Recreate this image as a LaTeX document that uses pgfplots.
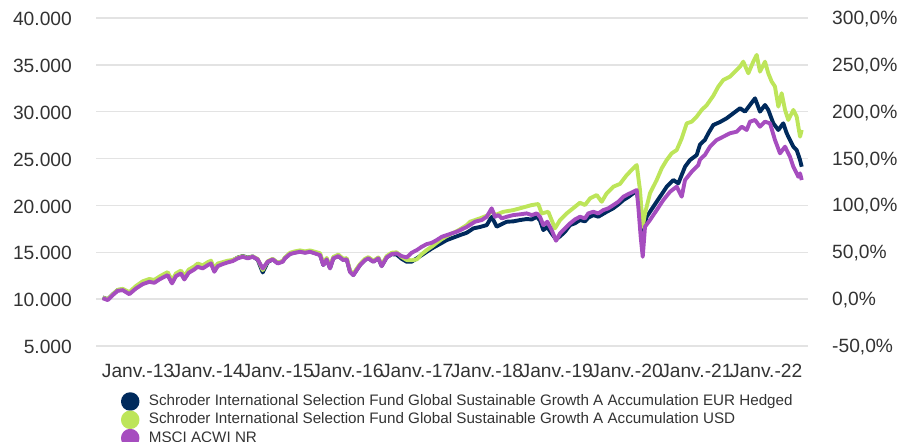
\documentclass[border=0pt]{standalone}
\usepackage{fontspec}
\setmainfont{Liberation Sans}
\usepackage{pgfplots}
\pgfplotsset{compat=1.18}
\usepackage{pgfplotstable}
\definecolor{navyc}{HTML}{002A5C}
\definecolor{limec}{HTML}{BDE55A}
\definecolor{violc}{HTML}{A64DBF}
\definecolor{txt}{HTML}{333333}
\definecolor{gridc}{HTML}{E3E3E3}

\pgfplotstableread{
x y
2012.494 10100
2012.566 9900
2012.638 10430
2012.709 10890
2012.781 10960
2012.875 10530
2012.971 11140
2013.067 11600
2013.162 11850
2013.234 11740
2013.305 12100
2013.377 12380
2013.425 12560
2013.487 11680
2013.544 12460
2013.616 12740
2013.663 12100
2013.726 12810
2013.807 13170
2013.855 13450
2013.927 13280
2013.999 13630
2014.046 13810
2014.093 12920
2014.142 13520
2014.213 13740
2014.285 13920
2014.357 14060
2014.428 14350
2014.500 14520
2014.572 14350
2014.643 14520
2014.715 14240
2014.787 13270
2014.858 13990
2014.930 14240
2015.001 13810
2015.073 13990
2015.106 14350
2015.178 14810
2015.249 14950
2015.321 15050
2015.393 14950
2015.464 15050
2015.536 14880
2015.608 14700
2015.655 13630
2015.703 14240
2015.751 13280
2015.798 14350
2015.870 14590
2015.941 14170
2015.990 14240
2016.037 12920
2016.085 12560
2016.133 13100
2016.181 13630
2016.252 14170
2016.300 14350
2016.371 13990
2016.443 14350
2016.491 13520
2016.563 14450
2016.635 14810
2016.706 14880
2016.778 14590
2016.850 14450
2016.921 14950
2016.993 15230
2017.065 15590
2017.136 15870
2017.208 16010
2017.279 16300
2017.351 16650
2017.423 16830
2017.494 17010
2017.566 17190
2017.638 17440
2017.709 17700
2017.828 18260
2017.924 18440
2017.996 18790
2018.067 19690
2018.115 18790
2018.162 18970
2018.211 18620
2018.282 18790
2018.377 18970
2018.473 19050
2018.569 19150
2018.641 18970
2018.712 19150
2018.759 18790
2018.807 17900
2018.864 18260
2018.927 17370
2018.989 16230
2019.046 17010
2019.118 17550
2019.189 18080
2019.261 18510
2019.332 18790
2019.404 18620
2019.451 19150
2019.523 19320
2019.595 19150
2019.666 19500
2019.738 19690
2019.810 20040
2019.881 20390
2019.953 20930
2020.025 21210
2020.096 21460
2020.145 21640
2020.168 19860
2020.202 16650
2020.231 14520
2020.264 17730
2020.335 18440
2020.431 19500
2020.526 20570
2020.622 21460
2020.718 22000
2020.790 20930
2020.837 22710
2020.933 23600
2021.027 24310
2021.052 24900
2021.123 25400
2021.195 26270
2021.291 26980
2021.386 27340
2021.482 27700
2021.578 27870
2021.649 28400
2021.721 28050
2021.768 28940
2021.840 29120
2021.911 28400
2021.983 28940
2022.055 28760
2022.126 26980
2022.198 25560
2022.270 26270
2022.341 25200
2022.389 24130
2022.460 23060
2022.485 23420
2022.509 22710
}\msci

\pgfplotstableread{
x y
2012.494 10180
2012.566 9980
2012.638 10510
2012.709 10970
2012.781 11040
2012.875 10610
2012.971 11220
2013.067 11680
2013.162 11930
2013.234 11820
2013.305 12180
2013.377 12460
2013.425 12640
2013.487 11760
2013.544 12540
2013.616 12820
2013.663 12180
2013.726 12890
2013.807 13250
2013.855 13530
2013.927 13360
2013.999 13710
2014.046 13890
2014.093 13000
2014.142 13600
2014.213 13820
2014.285 14000
2014.357 14140
2014.428 14430
2014.500 14600
2014.572 14430
2014.643 14560
2014.715 14200
2014.787 12850
2014.858 13950
2014.930 14250
2015.001 13850
2015.073 14050
2015.106 14400
2015.178 14850
2015.249 14990
2015.321 15090
2015.393 14990
2015.464 15090
2015.536 14920
2015.608 14740
2015.655 13650
2015.703 14260
2015.751 13300
2015.798 14370
2015.870 14610
2015.941 14190
2015.990 14260
2016.037 12940
2016.085 12580
2016.133 13120
2016.181 13650
2016.252 14190
2016.300 14370
2016.371 14010
2016.443 14370
2016.491 13540
2016.563 14470
2016.635 14800
2016.706 14750
2016.778 14300
2016.850 13990
2016.921 14000
2016.993 14350
2017.065 14700
2017.136 15050
2017.208 15400
2017.279 15700
2017.351 16000
2017.423 16300
2017.494 16500
2017.566 16700
2017.638 16900
2017.709 17080
2017.804 17550
2017.900 17700
2017.996 17900
2018.067 18790
2018.139 17730
2018.211 18000
2018.282 18260
2018.377 18300
2018.473 18440
2018.569 18550
2018.641 18500
2018.712 18790
2018.759 18400
2018.807 17370
2018.864 17700
2018.927 17000
2018.989 16380
2019.046 16700
2019.118 17200
2019.189 17900
2019.261 18100
2019.332 18440
2019.404 18300
2019.451 18700
2019.523 18970
2019.595 18800
2019.715 19320
2019.810 19700
2019.881 20100
2019.953 20570
2020.025 20900
2020.096 21300
2020.145 21460
2020.168 20570
2020.202 18500
2020.231 17370
2020.288 18790
2020.383 19860
2020.479 20930
2020.575 22000
2020.669 22710
2020.741 22350
2020.837 24130
2020.909 24850
2021.004 25380
2021.052 26500
2021.123 27000
2021.171 27700
2021.242 28580
2021.338 28900
2021.434 29300
2021.529 29830
2021.625 30370
2021.696 30010
2021.768 30720
2021.840 31430
2021.911 30010
2021.983 30720
2022.030 30190
2022.102 28760
2022.174 28050
2022.245 28760
2022.294 27700
2022.341 26980
2022.389 26270
2022.437 25910
2022.485 24850
2022.509 24130
}\eurh

\pgfplotstableread{
x y
2012.494 10150
2012.566 10000
2012.638 10500
2012.709 10990
2012.781 11100
2012.875 10750
2012.971 11400
2013.067 11900
2013.162 12150
2013.234 12050
2013.305 12400
2013.377 12700
2013.425 12880
2013.487 12000
2013.544 12750
2013.616 13050
2013.663 12450
2013.726 13150
2013.807 13500
2013.855 13800
2013.927 13600
2013.999 13950
2014.046 14100
2014.093 13250
2014.142 13800
2014.213 13950
2014.285 14100
2014.357 14180
2014.428 14420
2014.500 14580
2014.572 14400
2014.643 14560
2014.715 14280
2014.787 13100
2014.858 14050
2014.930 14300
2015.001 13880
2015.073 14080
2015.106 14450
2015.178 14950
2015.249 15100
2015.321 15200
2015.393 15100
2015.464 15200
2015.536 15050
2015.608 14900
2015.655 13800
2015.703 14400
2015.751 13450
2015.798 14500
2015.870 14750
2015.941 14300
2015.990 14380
2016.037 13050
2016.085 12700
2016.133 13250
2016.181 13750
2016.252 14300
2016.300 14480
2016.371 14100
2016.443 14450
2016.491 13650
2016.563 14600
2016.635 14950
2016.706 15000
2016.778 14500
2016.850 14170
2016.921 14150
2016.993 14240
2017.065 14800
2017.136 15230
2017.208 15600
2017.279 16010
2017.351 16400
2017.423 16720
2017.494 17000
2017.566 17250
2017.613 17450
2017.709 17900
2017.757 18260
2017.900 18620
2018.019 18970
2018.067 19500
2018.115 18970
2018.234 19320
2018.377 19500
2018.520 19790
2018.641 20040
2018.735 20150
2018.784 19150
2018.878 19320
2018.974 17550
2019.046 18440
2019.142 19150
2019.261 19860
2019.332 20290
2019.404 20040
2019.476 20750
2019.572 21110
2019.643 20390
2019.715 21290
2019.810 22000
2019.906 22300
2020.002 23240
2020.073 23780
2020.145 24310
2020.192 21640
2020.231 17730
2020.264 19150
2020.335 21290
2020.431 22710
2020.503 23960
2020.575 24850
2020.646 25560
2020.718 25910
2020.790 27160
2020.861 28760
2020.933 28940
2021.004 29470
2021.076 30190
2021.148 30700
2021.242 31700
2021.314 32680
2021.386 33390
2021.482 33740
2021.553 34280
2021.625 34810
2021.672 35340
2021.744 34100
2021.815 35340
2021.864 36060
2021.911 34280
2021.983 35340
2022.030 34100
2022.079 33210
2022.126 32680
2022.174 30540
2022.222 31970
2022.270 30190
2022.317 29120
2022.389 30190
2022.437 29470
2022.485 27340
2022.509 28050
}\usd

\begin{document}
\begin{tikzpicture}
\useasboundingbox (0pt,0pt) rectangle (898pt,442pt);
\begin{axis}[
  at={(96pt,96pt)}, anchor=south west,
  scale only axis, width=712pt, height=328pt,
  xmin=2012.398, xmax=2022.599,
  ymin=5000, ymax=40000,
  scaled y ticks=false, scaled x ticks=false,
  axis line style={draw=none},
  tick style={draw=none},
  ymajorgrids, major grid style={line width=1.5pt, gridc},
  xtick={2013,2014,2015,2016,2017,2018,2019,2020,2021,2022},
  xticklabels={Janv.-13,Janv.-14,Janv.-15,Janv.-16,Janv.-17,Janv.-18,Janv.-19,Janv.-20,Janv.-21,Janv.-22},
  ytick={5000,10000,15000,20000,25000,30000,35000,40000},
  yticklabels={5.000,10.000,15.000,20.000,25.000,30.000,35.000,40.000},
  tick label style={font=\fontsize{19.2}{23}\selectfont, text=txt},
  xticklabel style={anchor=north, inner sep=0pt, yshift=-18pt},
  yticklabel style={anchor=east, inner sep=0pt, xshift=-24pt, yshift=-1pt},
  legend cell align=left,
  legend image code/.code={\fill[#1] (7.3pt,0pt) circle (7.3pt);},
  legend style={at={(0.0351,-0.1410)}, anchor=north west, draw=none, fill=none,
    inner sep=0pt, outer sep=0pt, row sep=-0.2pt, column sep=9.4pt,
    font=\fontsize{15.2}{18}\selectfont, text=txt,
    nodes={inner sep=0pt, text height=11.1pt, text depth=3.2pt}},
]
\addplot[color=navyc, line width=3.9pt, line join=round] table[x=x,y=y] {\eurh};
\addlegendentry{Schroder International Selection Fund Global Sustainable Growth A Accumulation EUR Hedged}
\addplot[color=limec, line width=3.9pt, line join=round] table[x=x,y=y] {\usd};
\addlegendentry{Schroder International Selection Fund Global Sustainable Growth A Accumulation USD}
\addplot[color=violc, line width=3.9pt, line join=round] table[x=x,y=y] {\msci};
\addlegendentry{MSCI ACWI NR}
\end{axis}
\begin{axis}[
  at={(96pt,96pt)}, anchor=south west,
  scale only axis, width=712pt, height=328pt,
  xmin=2012.398, xmax=2022.599,
  ymin=-50, ymax=300,
  hide x axis,
  axis y line*=right,
  axis line style={draw=none},
  tick style={draw=none},
  ytick={-50,0,50,100,150,200,250,300},
  yticklabels={{-50,0\%},{0,0\%},{50,0\%},{100,0\%},{150,0\%},{200,0\%},{250,0\%},{300,0\%}},
  tick label style={font=\fontsize{19.2}{23}\selectfont, text=txt},
  yticklabel style={anchor=west, inner sep=0pt, xshift=24pt, yshift=-1pt},
]
\end{axis}
\end{tikzpicture}
\end{document}
